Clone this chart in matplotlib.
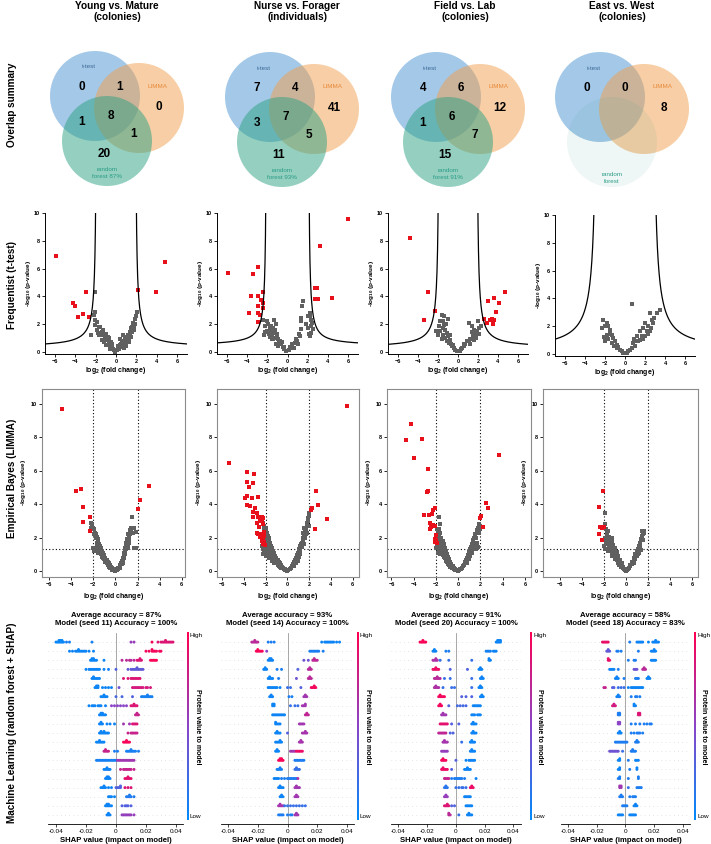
import numpy as np
import matplotlib
matplotlib.use('Agg')
import matplotlib.pyplot as plt
from matplotlib.patches import Circle
from matplotlib.colors import LinearSegmentedColormap

plt.rcParams['font.family'] = ['Liberation Sans', 'DejaVu Sans']
plt.rcParams['mathtext.fontset'] = 'custom'
plt.rcParams['mathtext.rm'] = 'Liberation Sans'
plt.rcParams['mathtext.bf'] = 'Liberation Sans:bold'

W, H = 711, 844
fig = plt.figure(figsize=(W / 100, H / 100), dpi=100)


def px_axes(l, t, w, h):
    return fig.add_axes([l / W, 1 - (t + h) / H, w / W, h / H])


# ---------------- data ----------------
col_titles = ['Young vs. Mature\n(colonies)', 'Nurse vs. Forager\n(individuals)',
              'Field vs. Lab\n(colonies)', 'East vs. West\n(colonies)']
row_titles = ['Overlap summary', 'Frequentist (t-test)', 'Empirical Bayes (LIMMA)',
              'Machine Learning (random forest + SHAP)']

# venn counts: t-only, t&L, L-only, t&RF, all, L&RF, RF-only
venn_counts = [[0, 1, 0, 1, 8, 1, 20],
               [7, 4, 41, 3, 7, 5, 11],
               [4, 6, 12, 1, 6, 7, 15],
               [0, 0, 8, None, None, None, None]]
rf_labels = ['random\nforest 87%', 'random\nforest 93%', 'random\nforest 91%', 'random\nforest']

# t-test volcano: gray (not significant) and red (significant)
tt_gray = [
    [(-2.04, 4.34), (-2.2, 2.65), (-2.1, 2.89), (-2.04, 2.29), (-1.88, 2.17), (-2.04, 1.93),
     (-1.71, 1.81), (-1.55, 1.81), (-1.88, 1.57), (-1.38, 1.45), (-1.55, 1.2), (-1.22, 1.2),
     (-1.05, 0.96), (-1.38, 0.84), (-0.89, 0.84), (-0.72, 0.72), (-0.95, 0.48), (-0.56, 0.48),
     (-0.39, 0.36), (-0.63, 0.24), (-0.23, 0.12), (-0.07, 0.0), (-2.47, 1.2), (-1.71, 1.2),
     (-1.15, 0.72), (-0.82, 1.08), (-0.49, 0.72), (-0.3, 0.24), (0.1, 0.12), (0.26, 0.24),
     (0.36, 0.48), (0.49, 0.6), (0.59, 0.72), (0.76, 0.77), (0.86, 0.92), (0.92, 0.6),
     (1.02, 1.08), (1.09, 0.84), (1.18, 1.2), (1.25, 1.01), (1.35, 1.45), (1.41, 1.25),
     (1.51, 1.69), (1.58, 1.81), (1.68, 2.05), (1.74, 1.81), (1.84, 1.98), (1.91, 2.36),
     (2.01, 2.6), (2.07, 2.89), (0.43, 0.96), (0.69, 1.2), (0.63, 0.36), (0.2, 0.4),
     (-1.3, 1.6), (-1.0, 1.3), (-0.7, 1.0), (-0.4, 0.55), (-1.8, 1.35), (1.3, 0.7),
     (1.6, 1.4), (1.0, 0.45), (0.8, 0.3), (1.5, 1.05), (1.8, 1.55)],
    [(-2.4, 2.33), (-2.07, 2.21), (-1.91, 1.98), (-2.24, 1.86), (-1.74, 1.74), (-1.58, 1.5),
     (-1.41, 1.74), (-1.35, 2.33), (-1.25, 1.38), (-1.09, 1.14), (-0.92, 0.9), (-0.82, 0.67),
     (-0.66, 0.55), (-0.49, 0.38), (-0.36, 0.19), (-0.16, 0.1), (-2.07, 1.5), (-1.81, 1.26),
     (-1.58, 0.9), (-1.41, 0.9), (-1.15, 0.55), (-0.95, 0.45), (-1.3, 1.0), (-1.7, 1.1),
     (-1.9, 1.4), (-1.2, 1.6), (-1.5, 1.3), (-1.0, 1.3), (-0.75, 0.8), (-0.55, 0.7),
     (-0.3, 0.35), (-2.3, 1.2), (-2.2, 1.4), (-1.6, 1.9), (-1.1, 2.0), (0.16, 0.14),
     (0.3, 0.31), (0.49, 0.43), (0.72, 0.62), (0.99, 0.79), (1.05, 0.55), (1.22, 1.14),
     (1.32, 1.62), (1.38, 2.45), (1.55, 3.64), (1.88, 1.98), (2.04, 1.74), (2.2, 2.81),
     (2.37, 2.33), (2.37, 1.38), (2.53, 1.62), (2.2, 1.14), (2.04, 2.57), (0.6, 0.3),
     (0.85, 0.9), (1.1, 1.3), (1.35, 2.2), (1.45, 3.3), (2.1, 1.3), (2.3, 1.9), (2.25, 2.6),
     (0.4, 0.6), (0.2, 0.35), (2.45, 2.1)],
    [(-1.6, 2.69), (-1.43, 2.57), (-1.0, 2.4), (-1.77, 2.21), (-1.93, 1.85), (-1.37, 1.97),
     (-2.17, 1.49), (-2.03, 1.25), (-1.77, 1.49), (-1.5, 1.73), (-1.27, 1.61), (-1.1, 1.37),
     (-1.03, 1.13), (-0.83, 0.89), (-0.93, 0.65), (-0.7, 0.58), (-0.6, 0.41), (-0.43, 0.29),
     (-0.27, 0.17), (-0.1, 0.05), (-1.27, 1.0), (-1.1, 0.77), (-1.5, 1.2), (-1.6, 0.9),
     (-0.5, 0.5), (-0.8, 1.2), (-1.2, 2.0), (-1.55, 2.2), (0.17, 0.1), (0.4, 0.29),
     (0.57, 0.41), (0.73, 0.58), (0.9, 0.77), (1.07, 0.77), (1.23, 0.96), (1.07, 2.09),
     (1.4, 1.85), (1.5, 1.13), (1.73, 1.29), (1.9, 1.49), (1.83, 0.99), (1.63, 0.89),
     (2.07, 1.73), (1.97, 2.21), (2.3, 1.85), (1.2, 0.6), (1.35, 1.4), (0.3, 0.2),
     (0.6, 0.6), (2.1, 1.3), (1.6, 1.6)],
    [(0.67, 3.61), (3.5, 3.18), (3.17, 2.94), (2.5, 2.94), (2.67, 2.46), (2.83, 2.22),
     (2.33, 1.99), (2.0, 2.22), (1.83, 1.87), (2.17, 1.63), (1.5, 1.63), (1.67, 1.27),
     (1.17, 1.27), (1.33, 0.91), (0.83, 0.79), (1.0, 0.55), (0.67, 0.43), (0.5, 0.31),
     (0.33, 0.19), (0.17, 0.07), (2.5, 1.63), (2.6, 1.85), (1.83, 1.1), (2.3, 1.4),
     (2.0, 1.3), (1.2, 0.9), (1.5, 1.0), (2.9, 2.6), (0.9, 1.1), (-2.17, 2.46),
     (-2.33, 1.87), (-2.0, 1.99), (-1.83, 2.22), (-1.67, 1.99), (-1.5, 1.75), (-1.83, 1.39),
     (-2.0, 0.91), (-1.33, 1.39), (-1.17, 1.15), (-1.0, 0.91), (-0.83, 0.67), (-0.67, 0.48),
     (-0.5, 0.31), (-0.33, 0.19), (-0.17, 0.07), (-1.33, 0.8), (-1.67, 1.1), (-1.1, 0.6),
     (-0.8, 0.4), (-2.1, 1.2), (-1.5, 1.4)]]
tt_red = [
    [(-5.89, 6.87), (4.87, 6.5), (-4.24, 3.49), (-4.01, 3.3), (-2.93, 4.34), (-3.75, 2.53),
     (-3.26, 2.72), (-2.7, 2.53), (2.17, 4.46), (3.98, 4.29)],
    [(5.99, 9.6), (3.19, 7.62), (-2.89, 6.14), (-5.95, 5.67), (-3.39, 5.62), (-2.4, 4.31),
     (-3.62, 4.05), (-2.96, 4.05), (-2.63, 3.71), (-2.47, 3.52), (-2.89, 3.29), (-2.4, 3.17),
     (-2.89, 2.81), (-2.73, 2.69), (-3.78, 2.81), (-2.89, 2.14), (2.7, 4.6), (2.96, 4.6),
     (2.7, 3.81), (3.03, 3.83), (4.41, 3.86)],
    [(-4.77, 8.2), (-3.03, 4.29), (-2.27, 2.93), (-3.43, 2.33), (2.97, 3.69), (3.63, 3.88),
     (4.13, 3.53), (4.73, 4.29), (3.8, 2.88), (2.57, 2.4), (2.9, 2.09), (3.17, 2.33),
     (3.4, 2.37), (3.63, 2.33), (3.5, 2.01)],
    []]
# threshold curve parameters (asymptote, scale, floor)
tt_curve = [(1.88, 1.3, 0.32), (2.05, 1.1, 0.43), (1.85, 1.38, 0.28), (2.72, 3.9, 0.15)]

# LIMMA volcano
lm_gray = [
    [(-2.2, 2.9), (-2.1, 2.8), (-2.0, 2.6), (-1.9, 2.5), (-1.85, 2.3), (-1.75, 2.2), (-1.7, 2.05),
     (-1.6, 1.9), (-1.55, 1.75), (-1.45, 1.6), (-1.4, 1.5), (-1.3, 1.35), (-1.2, 1.2), (-1.1, 1.05),
     (-1.0, 0.95), (-0.9, 0.8), (-0.8, 0.68), (-0.7, 0.55), (-0.6, 0.45), (-0.5, 0.35), (-0.4, 0.26),
     (-0.3, 0.18), (-0.2, 0.1), (-0.1, 0.04), (-2.0, 1.4), (-1.8, 1.3), (-1.9, 1.2), (-1.6, 1.1),
     (-1.5, 1.3), (-1.3, 1.0), (-1.2, 0.85), (-1.0, 0.7), (-0.9, 0.55), (-0.8, 0.45), (-0.7, 0.35),
     (-0.55, 0.25), (-0.45, 0.15), (-0.3, 0.08), (-1.7, 1.5), (-1.4, 1.15), (-1.1, 0.8), (0.1, 0.05),
     (0.2, 0.1), (0.3, 0.2), (0.4, 0.3), (0.5, 0.45), (0.6, 0.6), (0.7, 0.75), (0.75, 0.9),
     (0.8, 1.05), (0.85, 1.2), (0.9, 1.35), (0.95, 1.5), (1.0, 1.6), (1.05, 1.75), (1.1, 1.9),
     (1.2, 2.05), (1.3, 2.2), (1.4, 2.4), (1.5, 2.55), (1.6, 2.6), (1.7, 2.55), (1.5, 3.25),
     (1.85, 2.35), (1.9, 1.4), (0.9, 1.1), (0.8, 0.8), (0.6, 0.4), (0.45, 0.2), (1.0, 1.3),
     (1.15, 1.6), (0.95, 1.7), (1.25, 1.8), (0.7, 0.55), (1.65, 1.35),
     (-2.1, 2.5), (-1.95, 2.2), (-1.8, 1.95), (-1.65, 1.7), (-1.5, 1.45), (-1.35, 1.2),
     (-1.2, 1.0), (-1.05, 0.8), (-0.9, 0.65), (-0.75, 0.48), (-0.6, 0.32), (-0.45, 0.2),
     (-0.3, 0.12), (-2.2, 2.6), (0.25, 0.18), (0.4, 0.38), (0.55, 0.55), (0.65, 0.7),
     (0.75, 1.0), (0.85, 1.3), (0.95, 1.6), (1.05, 1.9), (1.15, 2.2), (1.3, 2.45),
     (1.45, 2.6), (1.55, 2.3), (1.2, 1.7), (1.1, 1.4), (0.9, 1.0), (0.7, 0.45), (0.0, 0.02),
     (0.05, 0.1), (-0.05, 0.1)],
    [(-2.2, 2.85), (-2.1, 2.7), (-2.0, 2.55), (-1.95, 2.4), (-1.85, 2.25), (-1.8, 2.1), (-1.7, 1.95),
     (-1.65, 1.8), (-1.55, 1.65), (-1.5, 1.5), (-1.4, 1.35), (-1.3, 1.2), (-1.2, 1.05), (-1.1, 0.9),
     (-1.0, 0.8), (-0.9, 0.65), (-0.8, 0.55), (-0.7, 0.45), (-0.6, 0.35), (-0.5, 0.25), (-0.4, 0.18),
     (-0.3, 0.12), (-0.2, 0.07), (-0.1, 0.03), (-2.3, 1.5), (-2.2, 1.3), (-2.1, 1.2), (-2.0, 1.05),
     (-1.9, 1.3), (-1.8, 0.95), (-1.7, 1.2), (-1.6, 0.85), (-1.5, 1.05), (-1.4, 0.75), (-1.3, 0.9),
     (-1.2, 0.65), (-1.1, 0.55), (-1.0, 0.45), (-0.9, 0.38), (-0.8, 0.3), (-0.7, 0.22),
     (-0.6, 0.15), (-2.1, 2.0), (-1.9, 1.7), (-1.75, 1.55), (-1.6, 1.4), (-2.25, 1.75),
     (0.1, 0.04), (0.2, 0.1), (0.3, 0.18), (0.4, 0.28), (0.5, 0.4), (0.6, 0.52), (0.7, 0.65),
     (0.8, 0.8), (0.9, 0.95), (1.0, 1.1), (1.1, 1.3), (1.2, 1.5), (1.3, 1.7), (1.4, 1.9),
     (1.5, 2.1), (1.6, 2.3), (1.7, 2.5), (1.8, 2.7), (1.9, 3.0), (1.95, 3.3), (2.0, 3.5),
     (1.2, 1.2), (1.35, 1.45), (1.5, 1.6), (0.75, 0.5), (1.05, 0.85), (1.65, 2.0), (1.85, 2.3),
     (2.0, 2.7), (1.55, 2.6), (1.4, 2.3), (1.0, 0.6), (0.6, 0.3),
     (-2.15, 2.6), (-2.0, 2.3), (-1.9, 2.05), (-1.75, 1.8), (-1.6, 1.55), (-1.45, 1.3),
     (-1.3, 1.1), (-1.15, 0.9), (-1.0, 0.7), (-0.85, 0.55), (-0.7, 0.4), (-0.55, 0.3),
     (-0.4, 0.2), (-0.25, 0.1), (0.0, 0.02), (0.25, 0.12), (0.45, 0.3), (0.65, 0.55),
     (0.85, 0.85), (1.05, 1.2), (1.25, 1.6), (1.45, 2.0), (1.65, 2.4), (1.8, 2.9), (1.9, 3.2),
     (1.15, 1.0), (1.4, 1.7), (1.7, 2.2), (-2.2, 1.0), (-1.95, 0.9), (-1.7, 0.8), (-1.4, 0.6),
     (-1.2, 0.45)],
    [(-1.71, 3.25), (-1.65, 2.81), (-1.9, 2.5), (-1.8, 2.3), (-1.7, 2.15), (-1.65, 2.0),
     (-1.55, 1.85), (-1.5, 1.7), (-1.45, 1.55), (-1.35, 1.4), (-1.25, 1.25), (-1.15, 1.1),
     (-1.05, 0.95), (-0.95, 0.8), (-0.85, 0.65), (-0.75, 0.5), (-0.65, 0.4), (-0.55, 0.3),
     (-0.45, 0.2), (-0.35, 0.13), (-0.25, 0.08), (-0.12, 0.03), (-1.9, 1.6), (-1.8, 1.45),
     (-1.7, 1.3), (-1.6, 1.2), (-1.5, 1.05), (-1.4, 0.95), (-1.3, 0.85), (-1.2, 0.75),
     (-1.1, 0.62), (-1.0, 0.52), (-0.9, 0.42), (-0.8, 0.33), (-0.7, 0.25), (-0.55, 0.16),
     (-2.0, 2.0), (-1.85, 1.9), (0.1, 0.04), (0.2, 0.1), (0.3, 0.17), (0.4, 0.27), (0.5, 0.38),
     (0.6, 0.5), (0.7, 0.63), (0.8, 0.78), (0.9, 0.95), (1.0, 1.15), (1.05, 1.34), (1.2, 1.64),
     (1.3, 1.85), (1.4, 2.0), (1.5, 2.2), (1.65, 2.44), (1.89, 2.81), (1.8, 2.6), (1.77, 1.44),
     (1.6, 1.3), (1.1, 0.9), (0.95, 0.7), (0.75, 0.45), (1.3, 1.3), (1.45, 1.6), (1.6, 1.95),
     (1.9, 2.3), (2.0, 2.5),
     (-1.75, 2.5), (-1.6, 2.25), (-1.5, 2.0), (-1.4, 1.8), (-1.3, 1.6), (-1.2, 1.4),
     (-1.1, 1.2), (-1.0, 1.0), (-0.9, 0.85), (-0.8, 0.7), (-0.7, 0.55), (-0.6, 0.42),
     (-0.5, 0.3), (-0.4, 0.2), (-0.3, 0.12), (0.0, 0.02), (0.25, 0.14), (0.45, 0.32),
     (0.65, 0.56), (0.85, 0.85), (1.0, 1.0), (1.15, 1.45), (1.35, 1.7), (1.55, 2.0),
     (1.7, 2.3), (1.85, 2.5), (1.95, 2.7), (1.7, 1.7), (1.5, 1.5), (1.25, 1.1), (-2.0, 1.4),
     (-1.8, 1.1), (-1.65, 1.0)],
    [(-1.89, 3.45), (-1.89, 2.79), (-1.59, 2.4), (-1.74, 2.24), (-1.29, 2.0), (-1.6, 1.95),
     (-1.45, 1.8), (-1.35, 1.6), (-1.2, 1.45), (-1.1, 1.3), (-1.0, 1.15), (-0.9, 1.0),
     (-0.8, 0.85), (-0.7, 0.7), (-0.6, 0.55), (-0.5, 0.42), (-0.4, 0.3), (-0.3, 0.2),
     (-0.2, 0.1), (-0.1, 0.04), (-1.7, 1.6), (-1.5, 1.45), (-1.4, 1.25), (-1.25, 1.1),
     (-1.1, 0.95), (-0.95, 0.8), (-0.85, 0.65), (-0.75, 0.5), (-0.6, 0.38), (-0.45, 0.25),
     (-1.9, 2.0), (-1.8, 1.75), (0.1, 0.05), (0.2, 0.12), (0.3, 0.2), (0.4, 0.3), (0.5, 0.42),
     (0.6, 0.55), (0.7, 0.7), (0.8, 0.85), (0.9, 1.0), (1.0, 1.15), (1.1, 1.3), (1.2, 1.5),
     (1.3, 1.7), (1.41, 2.4), (1.62, 2.28), (1.5, 1.84), (1.3, 1.35), (1.15, 1.1), (1.0, 0.9),
     (0.85, 0.7), (0.7, 0.5), (1.45, 2.1), (1.55, 2.3),
     (-1.8, 2.5), (-1.7, 2.3), (-1.55, 2.05), (-1.45, 1.95), (-1.3, 1.75), (-1.15, 1.55),
     (-1.0, 1.35), (-0.85, 1.15), (-0.7, 0.9), (-0.55, 0.65), (-0.4, 0.45), (-0.25, 0.25),
     (0.0, 0.02), (0.25, 0.2), (0.4, 0.38), (0.55, 0.55), (0.7, 0.8), (0.85, 1.0), (1.0, 1.2),
     (1.15, 1.4), (1.25, 1.6), (1.35, 1.9), (1.5, 2.2), (1.6, 2.4), (1.35, 1.25), (1.1, 1.0),
     (-2.0, 1.5), (-1.9, 1.3), (-1.6, 1.2), (-1.3, 0.9), (-1.0, 0.7)]]
lm_red = [
    [(-4.83, 9.72), (-3.53, 4.79), (-3.08, 4.89), (-2.93, 3.85), (-2.93, 2.95), (-2.27, 3.25),
     (-2.27, 2.4), (3.08, 5.09), (2.18, 4.25), (2.05, 3.69)],
    [(5.49, 9.86), (-5.4, 6.49), (-3.66, 5.91), (-3.05, 5.81), (-3.72, 5.35), (-3.17, 5.25),
     (-3.51, 5.01), (-3.72, 4.49), (-3.93, 4.35), (-3.26, 4.35), (-2.74, 4.41), (-3.72, 3.95),
     (-3.41, 3.89), (-2.96, 3.75), (-3.2, 3.55), (-2.8, 3.45), (-3.2, 3.25), (-2.65, 3.21),
     (-2.35, 3.25), (-2.2, 3.15), (-2.5, 3.01), (-2.8, 2.85), (-2.56, 2.65), (-2.2, 2.81),
     (-2.65, 2.2), (-2.35, 2.24), (-2.13, 2.34), (-2.5, 2.04), (-2.2, 1.94), (-2.35, 1.8),
     (-2.1, 1.74), (-2.26, 1.6), (-2.04, 1.54), (-2.8, 2.28), (-2.3, 3.05), (-2.1, 2.1),
     (2.23, 3.75), (2.13, 3.65), (2.62, 4.79), (2.84, 3.95), (3.6, 3.09), (2.53, 2.49)],
    [(-4.2, 8.82), (-4.65, 7.86), (-3.21, 7.92), (-3.96, 6.79), (-2.7, 6.09), (-2.79, 4.75),
     (-2.67, 4.81), (-3.09, 3.35), (-2.64, 3.35), (-2.31, 3.41), (-2.25, 3.65), (-2.1, 3.79),
     (-2.55, 2.89), (-2.4, 2.65), (-2.25, 2.75), (-2.1, 2.69), (-2.49, 2.51), (-2.01, 2.14),
     (-2.1, 1.94), (-1.95, 1.84), (-2.1, 1.74), (-1.89, 1.68), (3.69, 6.95), (2.46, 4.05),
     (2.64, 3.75), (2.01, 3.29), (1.95, 3.15), (2.19, 2.65)],
    [(-2.04, 4.79), (-2.4, 3.81), (-2.34, 2.65), (-2.19, 2.55), (-1.98, 2.65), (-2.4, 2.24),
     (-2.19, 1.84)]]

# SHAP summary: per row (top to bottom) clusters of (SHAP values x1000, feature value 0..1)
shap_titles = ['Average accuracy = 87%\nModel (seed 11) Accuracy = 100%',
               'Average accuracy = 93%\nModel (seed 14) Accuracy = 100%',
               'Average accuracy = 91%\nModel (seed 20) Accuracy = 100%',
               'Average accuracy = 58%\nModel (seed 18) Accuracy = 83%']
shap_young = [
    [([-40, -39, -38, -38, -37, -37, -36, -36, -35], .03), ([-33, -31, -16], .08), ([10, 12], .55), ([24], .95), ([28, 30, 31, 32, 33, 33, 34, 35, 36, 37, 38], .85)],
    [([-31, -29, -27, -26, -25, -25, -24, -23, -22, -21, -20, -18, -15], .05), ([20, 22, 24, 24, 25, 26, 27, 29, 30], .95)],
    [([-17, -16, -16, -15, -15, -14, -13, -8], .05), ([4, 7, 9, 10, 12], .7), ([14, 15, 16, 16, 17], .85), ([23, 24, 25, 26, 27], .97)],
    [([-20, -18, -17, -16, -15, -14, -13, -12, -11, -8, -5], .05), ([0], .3), ([8, 10, 11, 12, 13, 14, 14, 15, 16, 17, 18], .35)],
    [([-16, -15, -15, -14, -13, -12, -11], .05), ([5, 8, 10, 11, 12, 13, 14, 15, 16], .85)],
    [([-14, -13, -13, -12, -12, -9, -7, -5, -3], .05), ([2], .4), ([11, 12, 13, 14, 15, 16, 17, 18, 20, 21, 23], .82)],
    [([-10, -9, -8, -8, -7, -6], .05), ([0, 4], .25), ([11], .3), ([17, 18, 19, 20, 21, 21, 22, 23, 24], .08)],
    [([-18, -16, -15, -14, -12, -11, -10, -7], .05), ([-3, -1, 1, 3, 5, 7], .5), ([10, 11, 12, 12, 13, 14], .85)],
    [([-11, -10, -10, -9, -9, -8, -7], .05), ([13, 14, 14, 15], .75)],
    [([-11, -10, -10, -9, -6, -4, -1], .05), ([5, 9], .6), ([11, 12, 13, 14], .85)],
    [([-11, -10, -10, -9, -8, -8, -7, -6, -5], .05), ([8, 10, 11, 12, 13, 14], .75)],
    [([-13, -12, -11, -11, -10, -9, -8], .05), ([5, 6, 7, 7, 8, 9], .97)],
    [([-8, -7, -7, -6, -5], .75), ([-1, 1], .1), ([7, 8, 9, 10, 10, 11, 12, 13, 15], .08)],
    [([-13, -12, -11, -10, -9, -8, -7, -6, -5, -4, -3, -2, -1, 0], .08), ([1, 2, 3, 4, 5, 6, 7, 8, 9, 10, 11, 12], .6)],
    [([-8, -7, -6, -6, -5, -4], .05), ([3, 5, 6, 7, 8, 9, 10, 12], .75)],
    [([-7, -6, -6, -5, -5, -4], .05), ([6, 7, 8, 8, 9, 10], .88)],
    [([-10, -9, -8, -8, -7, -5, -3], .05), ([0, 1, 2, 3, 3], .3), ([6, 8, 10], .85)],
    [([-5, -4, -3, -1], .05), ([7, 8, 9, 9, 10, 12], .12)],
    [([-7, -6, -6, -5, -5, -4, -3], .05), ([4, 6, 7, 8, 10], .3)],
    [([-6, -5, -5, -4], .05), ([4, 5, 6, 7, 8, 9, 10, 12], .55)]]
shap_nurse = [
    [([-24, -23, -22, -22, -21, -20], .7), ([-13, -11, -9], .1), ([23, 25, 26, 27, 28, 29, 30, 31, 33, 35], .05)],
    [([-21, -20, -20, -19, -18, -17], .97), ([-14], .5), ([15, 16, 17, 18, 19, 20, 21, 24], .1)],
    [([-13, -12, -12, -11, -11, -10], .05), ([11, 14], .4), ([17, 18, 18, 19, 20], .72)],
    [([-16, -15, -15, -14], .05), ([-7, -4], .1), ([7], .3), ([14, 15, 15, 16], .7)],
    [([-13, -12, -12, -11, -10], .05), ([-6], .1), ([6], .4), ([14, 15, 15, 16], .7)],
    [([-13, -12, -11, -10, -9, -8, -7, -5], .05), ([0, 2], .2), ([9], .3), ([16, 17, 18, 18, 19], .95)],
    [([-12, -11, -11, -10], .05), ([1, 3], .1), ([11, 12, 12, 13], .6)],
    [([-10, -10, -9, -9], .05), ([2, 5, 7], .2), ([10, 11, 12, 12], .6)],
    [([-10, -9, -8, -7, -6, -5, -4, -3, -2], .05), ([12, 13, 13, 14], .72)],
    [([-8, -8, -7, -6, -5], .05), ([8, 9, 10, 11], .6)],
    [([-8, -7, -7, -6, -5], .05), ([0], .3), ([10, 11, 12, 12, 13], .62)],
    [([-8, -7, -6, -5, -5, -4], .05), ([8, 9, 9, 10], .62)],
    [([-8, -7, -7, -6], .05), ([2, 3, 4, 5], .6), ([6, 7, 8, 9, 10], .92)],
    [([-6, -5, -5, -4, -4, -3], .97), ([5, 6, 7, 8, 9, 10, 11], .1)],
    [([-7, -6, -5, -5, -4], .08), ([5, 6, 6, 7, 8], .2)],
    [([-9, -8, -7, -6], .05), ([-4, -2, 0, 1, 2, 3, 4, 5, 6], .1), ([7], .65)],
    [([-6, -5, -5, -4, -3], .05), ([5, 6, 6, 7, 8], .6)],
    [([-5, -4, -4, -3], .05), ([5, 6, 6, 7], .6)],
    [([-6, -5, -5, -4, -3], .62), ([-2, 0, 2, 4, 6, 8, 10, 12], .2)],
    [([-6, -5, -4, -3], .1), ([0, 2, 3], .1), ([5, 6, 6, 7], .6)]]
shap_field = [
    [([-25, -24, -23, -23, -22, -21], .97), ([28, 29, 29, 30, 30, 31, 31], .05)],
    [([-16, -15, -15, -14], .05), ([-7, -5], .1), ([21, 22, 23, 24], .08), ([26, 27, 28], .05)],
    [([-16, -15, -14, -14, -13], .65), ([-11, -5], .2), ([11], .2), ([23, 23, 24], .05)],
    [([-16, -15, -14, -14, -13, -12], .92), ([-4], .3), ([8], .3), ([16, 17, 17, 18], .05)],
    [([-15, -14, -13, -13, -12, -11], .7), ([-8, -4], .2), ([11], .2), ([17, 18, 18, 19], .05)],
    [([-15, -14, -14, -13, -12], .65), ([-9, -3, -1], .2), ([11], .2), ([16, 17, 17, 18], .05)],
    [([-12, -11, -11, -10, -9, -8], .95), ([4, 7], .3), ([11], .3), ([17, 18, 18, 19], .05)],
    [([-12, -11, -11, -10], .95), ([-5], .3), ([1, 3, 5, 7], .25), ([12, 13, 14, 15, 16, 17], .05)],
    [([-10, -9, -9, -8, -7], .6), ([11, 12, 13, 15, 16, 17], .05)],
    [([-11, -10, -9, -8, -7, -6], .88), ([-3, 2], .3), ([11, 12, 12, 13, 14], .05)],
    [([-12, -11, -10, -9, -8, -7], .72), ([-4, -2], .3), ([11, 12, 12, 13, 14], .05)],
    [([-9, -8, -8, -7, -6], .62), ([4], .2), ([10, 11, 11, 12, 13], .05)],
    [([-10, -9, -8, -7, -6], .55), ([10, 11, 11, 12, 13], .05)],
    [([-10, -9, -9, -8, -7], .95), ([0], .3), ([7, 9, 10, 11, 12, 13], .05)],
    [([-10, -9, -9, -8, -7, -6], .92), ([-3], .3), ([6, 7, 8, 8, 9, 10], .05)],
    [([-8, -7, -6, -5], .75), ([-3, -1, 0, 1, 2, 3, 4, 6], .1), ([14], .05)],
    [([-8, -7, -7, -6], .15), ([0, 2, 4, 5, 7], .2), ([10, 11, 11, 12], .92)],
    [([-8, -7, -7, -6], .55), ([6, 7, 8, 9, 10], .05)],
    [([-8, -7, -6, -6, -5], .85), ([-3, -1], .3), ([7, 8, 9, 10, 11], .05)],
    [([-5, -5, -4], .7), ([2], .2), ([8, 9, 9, 10, 11], .05)]]
shap_east = [
    [([-16, -15, -14, -13, -12], .9), ([3], .1), ([8, 9, 10, 11, 12], .05), ([16], .05), ([19, 20, 21, 21, 22, 23], .05)],
    [([-13, -12, -12, -11], .35), ([-6, -5, -3], .1), ([9], .1), ([18, 19, 20, 20, 21], .05)],
    [([-12, -12, -11], .9), ([2], .1), ([6, 7], .1), ([18, 19, 20, 21], .05)],
    [([-11, -10, -9, -8], .05), ([-5], .1), ([6, 7, 8], .4), ([12, 13, 13, 14], .7)],
    [([-7, -6, -6, -5], .05), ([-1], .1), ([7, 8, 9], .1), ([15, 16, 16, 17], .05)],
    [([-15, -14], .75), ([-9, -8], .3), ([-5, -3, -1], .2), ([2, 4, 5, 6, 7, 8, 9, 10, 11, 12], .05)],
    [([-6, -5, -5], .05), ([-4], .1), ([4, 7, 8, 10], .1)],
    [([-9, -8, -8, -7], .8), ([6, 6, 7], .05)],
    [([-5, -5, -4, -4], .1), ([9, 9, 10, 10], .85)],
    [([-5, -5, -4, -4], .5), ([4, 7, 10, 13, 15, 17, 18], .1)],
    [([-5, -4, -4, -3], .05), ([4, 6, 8, 9, 10, 12], .1)],
    [([-7, -6, -5, -4, -3, -2, -1, 0, 1], .1), ([7, 8, 8, 9], .1)],
    [([-11, -10, -9, -8, -7, -6, -5], .4), ([-2], .2), ([4, 5, 5, 6, 7], .1)],
    [([-5, -4, -4], .05), ([2], .1), ([7, 8, 9], .05)],
    [([-5, -4, -4], .05), ([3], .1), ([8, 8], .05)],
    [([-5, -4, -4], .1), ([2], .1), ([9, 9], .1)],
    [([-4, -4, -3, -3], .6), ([2], .2), ([8, 9, 10, 11], .1)],
    [([-4, -3, -3, -2], .1), ([3, 5, 6, 7], .1)],
    [([-2, -1, 0, 1], .1), ([6, 7, 7, 8], .05)],
    [([-5, -4, -3, -2], .05), ([3, 4, 5, 6, 7], .05)]]
shap_all = [shap_young, shap_nurse, shap_field, shap_east]

# ---------------- layout (pixels) ----------------
venn_centers = [(95, 96), (270, 97), (436, 97), (600, 97)]
title_x = [117, 297, 465, 622]
tt_boxes = [(45, 213, 142, 141), (217, 213, 141, 141), (388, 213, 140, 141), (555, 215, 140, 141)]
lm_boxes = [(42, 389, 143, 188), (217, 389, 142, 188), (387, 389, 144, 188), (543, 389, 155, 188)]
lm_xlims = [(-6.65, 6.3), (-6.46, 6.58), (-6.4, 6.55), (-7.49, 6.5)]
shap_boxes = [(48.5, 633, 135, 191), (220.6, 633, 133.8, 191), (391.3, 633, 129.3, 191), (560.8, 633, 129.3, 191)]
cbar_x = [187, 357, 530, 694]

C_BLUE, C_ORANGE, C_GREEN = '#4a93d0', '#f19f4d', '#2ba182'
GRAY, RED = '#606060', '#e8101a'
shap_cmap = LinearSegmentedColormap.from_list('shap', ['#008bfb', '#8a45c8', '#ff0052'])

# row / column titles
row_y = [105, 285, 478, 723]
for lab, yy in zip(row_titles, row_y):
    fig.text(12 / W, 1 - yy / H, lab, rotation=90, ha='center', va='center',
             fontsize=7.2, fontweight='bold')
for lab, xx in zip(col_titles, title_x):
    fig.text(xx / W, 1 - 11.5 / H, lab, ha='center', va='center', fontsize=7.3,
             fontweight='bold', linespacing=1.15)

# ---------------- Venn row ----------------
# region label offsets (px, relative to t-test circle centre, y down)
reg_off = [(-13, -9), (25, -9), (64, 11), (-13, 26), (16, 20), (39, 38), (9, 58)]
for ci in range(4):
    tx, ty = venn_centers[ci]
    ax = px_axes(tx - 60, ty - 60, 170, 170)
    ax.set_xlim(-60, 110)
    ax.set_ylim(110, -60)
    ax.axis('off')
    rf_alpha = 0.5 if ci < 3 else 0.08
    ax.add_patch(Circle((0, 0), 45, color=C_BLUE, alpha=0.5, lw=0))
    ax.add_patch(Circle((44, 12), 45, color=C_ORANGE, alpha=0.5, lw=0))
    ax.add_patch(Circle((12, 45), 45, color=C_GREEN, alpha=rf_alpha, lw=0))
    for cnt, (ox, oy) in zip(venn_counts[ci], reg_off):
        if cnt is not None:
            ax.text(ox, oy, str(cnt), ha='center', va='center', fontsize=8.5, fontweight='bold')
    ax.text(-6, -29, 't-test', ha='center', va='center', fontsize=4.5, color='#3d6a96')
    ax.text(62, -10, 'LIMMA', ha='center', va='center', fontsize=4.5, color='#e8893a')
    ax.text(12, 77 if ci < 3 else 81, rf_labels[ci], ha='center', va='center', fontsize=4.5,
            color='#2a9d86', linespacing=1.3)

xlab = r'$\mathbf{log_2}$ (fold change)'
ylab = r'-$\mathbf{log_{10}}$ (p-value)'


def style_ticks(ax, size=4):
    ax.tick_params(length=2, width=0.6, pad=1.5, labelsize=size)
    for t in ax.get_xticklabels() + ax.get_yticklabels():
        t.set_fontweight('bold')


# ---------------- t-test volcano row ----------------
for ci in range(4):
    ax = px_axes(*tt_boxes[ci])
    g = np.array(tt_gray[ci])
    ax.scatter(g[:, 0], g[:, 1], marker='s', s=10, c=GRAY, linewidths=0, zorder=2)
    if tt_red[ci]:
        r = np.array(tt_red[ci])
        ax.scatter(r[:, 0], r[:, 1], marker='s', s=10, c=RED, linewidths=0, zorder=3)
    a, c, y0 = tt_curve[ci]
    xx = np.linspace(a + 0.002, 7.2, 600)
    yy = y0 + c / (xx - a)
    ax.plot(xx, yy, color='k', lw=0.9, zorder=4)
    ax.plot(-xx, yy, color='k', lw=0.9, zorder=4)
    ax.set_xlim(-7, 7)
    ax.set_ylim(-0.15, 10)
    ax.set_xticks([-6, -4, -2, 0, 2, 4, 6])
    ax.set_yticks([0, 2, 4, 6, 8, 10])
    for s in ['top', 'right']:
        ax.spines[s].set_visible(False)
    for s in ['left', 'bottom']:
        ax.spines[s].set_linewidth(0.7)
    style_ticks(ax)
    ax.set_xlabel(xlab, fontsize=5, fontweight='bold', labelpad=1)
    ax.set_ylabel(ylab, fontsize=4.6, fontweight='bold', labelpad=1)

# ---------------- LIMMA volcano row ----------------
for ci in range(4):
    ax = px_axes(*lm_boxes[ci])
    g = np.array(lm_gray[ci])
    ax.scatter(g[:, 0], g[:, 1], marker='s', s=11, c=GRAY, linewidths=0, zorder=2)
    r = np.array(lm_red[ci])
    ax.scatter(r[:, 0], r[:, 1], marker='s', s=11, c=RED, linewidths=0, zorder=3)
    for v in (-2, 2):
        ax.axvline(v, color='k', lw=0.8, ls=(0, (1, 2)), zorder=1)
    ax.axhline(-np.log10(0.05), color='k', lw=0.8, ls=(0, (1, 2)), zorder=1)
    ax.set_xlim(*lm_xlims[ci])
    ax.set_ylim(-0.36, 10.9)
    ax.set_xticks([-6, -4, -2, 0, 2, 4, 6])
    ax.set_yticks([0, 2, 4, 6, 8, 10])
    for s in ax.spines.values():
        s.set_color('#8c8c8c')
        s.set_linewidth(0.8)
    style_ticks(ax)
    ax.set_xlabel(xlab, fontsize=5, fontweight='bold', labelpad=3)
    ax.set_ylabel(ylab, fontsize=4.6, fontweight='bold', labelpad=2)


# ---------------- SHAP row ----------------
def swarm(xs, nbins=100, row_height=0.4):
    xs = np.asarray(xs, float)
    span = xs.max() - xs.min() + 1e-8
    quant = np.round(nbins * (xs - xs.min()) / span)
    order = np.argsort(quant, kind='stable')
    ys = np.zeros(len(xs))
    layer, last = 0, None
    for ind in order:
        if quant[ind] != last:
            layer = 0
        ys[ind] = np.ceil(layer / 2) * ((layer % 2) * 2 - 1)
        layer += 1
        last = quant[ind]
    return ys * 0.9 * (row_height / np.max(ys + 1))


for ci in range(4):
    ax = px_axes(*shap_boxes[ci])
    rows = shap_all[ci]
    n = len(rows)
    for i, row in enumerate(rows):
        ypos = n - 1 - i
        ax.axhline(ypos, color='#cccccc', lw=0.5, dashes=(1, 5), zorder=-1)
        xs = np.concatenate([np.array(v, float) for v, _ in row]) / 1000.0
        cs = np.concatenate([np.full(len(v), f) for v, f in row])
        ys = swarm(xs)
        ax.scatter(xs, ypos + ys, c=cs, cmap=shap_cmap, vmin=0, vmax=1, s=4.5,
                   linewidths=0, zorder=3)
    ax.axvline(0, color='#999999', lw=0.6, zorder=-1)
    ax.set_xlim(-0.045, 0.045)
    ax.set_ylim(-1, n)
    ax.set_yticks([])
    for s in ['left', 'top', 'right']:
        ax.spines[s].set_visible(False)
    ax.spines['bottom'].set_linewidth(0.6)
    ax.set_xticks([-0.04, -0.02, 0, 0.02, 0.04])
    ax.set_xticklabels(['-0.04', '-0.02', '0', '0.02', '0.04'])
    ax.tick_params(axis='x', length=2, width=0.5, pad=1.5, labelsize=4.6)
    ax.set_xlabel('SHAP value (impact on model)', fontsize=5.6, fontweight='bold', labelpad=2)
    ax.set_title(shap_titles[ci], fontsize=5.6, fontweight='bold', pad=6, linespacing=1.15)

    cax = px_axes(cbar_x[ci], 632, 2, 188)
    cax.imshow(np.linspace(1, 0, 200)[:, None], aspect='auto', cmap=shap_cmap)
    cax.axis('off')
    bx = cbar_x[ci] + 3
    fig.text(bx / W, 1 - 636 / H, 'High', fontsize=4.6, ha='left', va='center')
    fig.text(bx / W, 1 - 817 / H, 'Low', fontsize=4.6, ha='left', va='center')
    fig.text((cbar_x[ci] + 10) / W, 1 - 727 / H, 'Protein value to model', rotation=270,
             fontsize=5, fontweight='bold', ha='center', va='center')

fig.savefig('out.png', dpi=100)
